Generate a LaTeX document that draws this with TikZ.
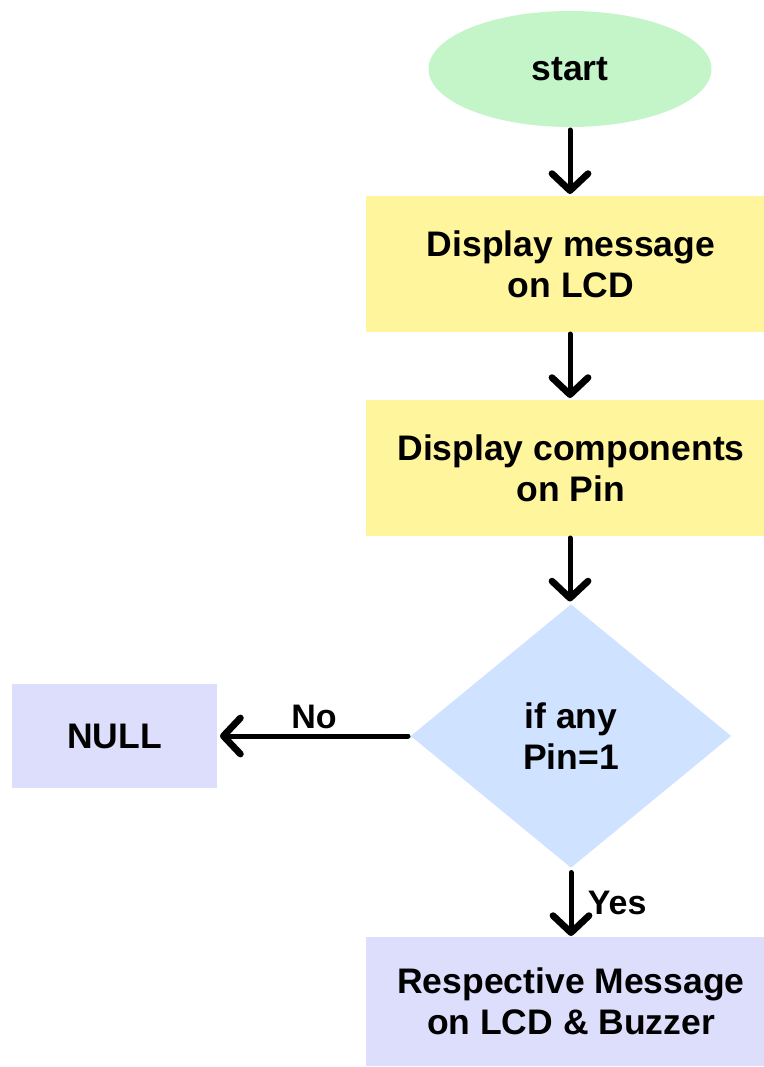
\documentclass[tikz,border=0pt]{standalone}
\usepackage{fontspec}
\setmainfont{Liberation Sans}
\usetikzlibrary{shapes.geometric,arrows.meta}
\definecolor{cstart}{HTML}{C3F5C8}
\definecolor{cyellow}{HTML}{FFF59D}
\definecolor{cblue}{HTML}{CFE2FF}
\definecolor{clav}{HTML}{DDDEFB}
\begin{document}
\begin{tikzpicture}[x=1pt,y=-1pt,
  txt/.style={font=\fontsize{35.5}{41}\selectfont\bfseries, align=center, text=black},
  procbox/.style={txt, fill=cyellow, minimum width=410pt, minimum height=136pt, inner sep=0pt, outer sep=2pt},
  endbox/.style={txt, fill=clav, minimum width=410pt, minimum height=129pt, inner sep=0pt, outer sep=1pt},
  arr/.style={line width=5pt, line cap=round, -{Straight Barb[length=17pt,width=36pt,line width=0pt 1.35,line cap=round,line join=round]}},
  lbl/.style={font=\fontsize{34}{38}\selectfont\bfseries}]
\useasboundingbox (0,0) rectangle (763,1067);
\node[ellipse, fill=cstart, minimum width=283pt, minimum height=116pt, inner sep=0pt, outer sep=3pt, txt] (start) at (570,69) {start};
\node[procbox] (b1) at (571,264) {Display message\\on LCD};
\node[procbox] (b2) at (571,468) {Display components\\on Pin};
\node[diamond, fill=cblue, minimum width=322pt, minimum height=265pt, inner sep=0pt, aspect=1.22, outer sep=2pt, txt] (dec) at (571,736) {if any\\Pin=1};
\node[txt, fill=clav, minimum width=205pt, minimum height=104pt, inner sep=0pt, outer sep=3pt] (null) at (114.5,736) {NULL};
\node[endbox] (b3) at (571,1001.5) {Respective Message\\on LCD \& Buzzer};
\draw[arr] (start) -- (start |- b1.north);
\draw[arr] (b1.south -| start) -- (start |- b2.north);
\draw[arr] (b2.south -| start) -- (start |- dec.north);
\draw[arr] (dec.west) -- node[lbl, above, yshift=1pt] {No} (null);
\draw[arr] (dec.south) ++(0,2) -- node[lbl, right, xshift=11pt, yshift=1pt] {Yes} (dec.south |- b3.north);
\end{tikzpicture}
\end{document}
